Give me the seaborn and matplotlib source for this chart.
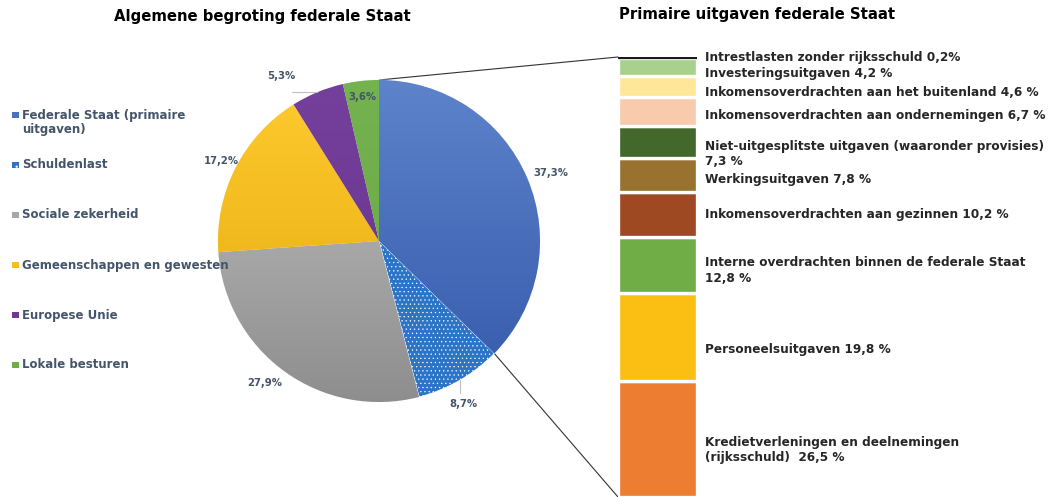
import numpy as np
import matplotlib
matplotlib.use("Agg")
import matplotlib.pyplot as plt
import seaborn as sns
from matplotlib.colors import LinearSegmentedColormap
from matplotlib.patches import Rectangle, ConnectionPatch

# ---------------- data ----------------
titles = ["Algemene begroting federale Staat", "Primaire uitgaven federale Staat"]

pie_categories = ["Federale Staat (primaire\nuitgaven)", "Schuldenlast", "Sociale zekerheid",
                  "Gemeenschappen en gewesten", "Europese Unie", "Lokale besturen"]
pie_values = [37.3, 8.7, 27.9, 17.2, 5.3, 3.6]
pie_value_labels = ["37,3%", "8,7%", "27,9%", "17,2%", "5,3%", "3,6%"]

bar_categories = ["Kredietverleningen en deelnemingen (rijksschuld)", "Personeelsuitgaven",
                  "Interne overdrachten binnen de federale Staat", "Inkomensoverdrachten aan gezinnen",
                  "Werkingsuitgaven", "Niet-uitgesplitste uitgaven (waaronder provisies)",
                  "Inkomensoverdrachten aan ondernemingen", "Inkomensoverdrachten aan het buitenland",
                  "Investeringsuitgaven", "Intrestlasten zonder rijksschuld"]
bar_values = [26.5, 19.8, 12.8, 10.2, 7.8, 7.3, 6.7, 4.6, 4.2, 0.2]
bar_labels = ["Kredietverleningen en deelnemingen\n(rijksschuld)  26,5 %",
              "Personeelsuitgaven 19,8 %",
              "Interne overdrachten binnen de federale Staat\n12,8 %",
              "Inkomensoverdrachten aan gezinnen 10,2 %",
              "Werkingsuitgaven 7,8 %",
              "Niet-uitgesplitste uitgaven (waaronder provisies)\n7,3 %",
              "Inkomensoverdrachten aan ondernemingen 6,7 %",
              "Inkomensoverdrachten aan het buitenland 4,6 %",
              "Investeringsuitgaven 4,2 %",
              "Intrestlasten zonder rijksschuld 0,2%"]

# ---------------- style ----------------
pie_colors = ["#4A70BC", "#2C74C6", "#A8A8A8", "#F8BE1C", "#6E3896", "#6DAE4A"]
pie_grad = {0: ("#5D83CB", "#3359AA"), 2: ("#C2C2C2", "#8E8E8E"), 3: ("#FFCB30", "#E3A80C"),
            4: ("#74409C", "#68338F"), 5: ("#74B34F", "#66A645")}
bar_colors = ["#ED7D31", "#FBBF14", "#70AD47", "#9E4921", "#997230", "#43682B",
              "#F8CBAD", "#FFE699", "#A9D18E", "#1A1A1A"]
label_angle_offset = [-1.3, -2.6, -3, 0, 8, 0]
label_dist = [1.15, 1.14, 1.13, 1.10, 1.19, 0.90]
bar_label_shift = [11, 12, 5, 0, 4, 12, 4, 6, 6, 0]

sns.set_theme(style="white")
plt.rcParams['font.family'] = ['DejaVu Sans']
plt.rcParams['hatch.linewidth'] = 0.4

W, H = 1054, 497
fig = plt.figure(figsize=(W / 100, H / 100), dpi=100)
fig.patch.set_facecolor("white")


def fr(x0, y0, w, h):
    return [x0 / W, 1 - (y0 + h) / H, w / W, h / H]


# overlay axes in pixel coordinates (titles, legend), drawn on top
axo = fig.add_axes([0, 0, 1, 1], zorder=5)
axo.set_xlim(0, W)
axo.set_ylim(H, 0)
axo.axis("off")
axo.patch.set_alpha(0)

# ---------------- pie ----------------
R = 161
cx, cy = 379, 241
axp = fig.add_axes(fr(cx - R, cy - R, 2 * R, 2 * R), zorder=2)
wedges, _ = axp.pie(pie_values, colors=pie_colors, startangle=90, counterclock=False,
                    wedgeprops=dict(linewidth=0.5, edgecolor="white"))
grad = np.linspace(0, 1, 256).reshape(-1, 1)
for i, w in enumerate(wedges):
    if i in pie_grad:
        light, dark = pie_grad[i]
        cmap = LinearSegmentedColormap.from_list("g%d" % i, [dark, light])
        im = axp.imshow(grad, extent=(-1, 1, -1, 1), origin="lower", cmap=cmap,
                        aspect="auto", zorder=w.get_zorder() + 0.1, interpolation="bilinear")
        im.set_clip_path(w)
    else:
        w.set_hatch("....")
        w.set_edgecolor("white")
axp.set_xlim(-1, 1)
axp.set_ylim(-1, 1)
axp.axis("off")

vals = np.array(pie_values)
cum = np.cumsum(vals)
mids = 90 - 3.6 * (cum - vals / 2)
for i, lab in enumerate(pie_value_labels):
    a = np.deg2rad(mids[i] + label_angle_offset[i])
    axp.text(label_dist[i] * np.cos(a), label_dist[i] * np.sin(a), lab, ha="center", va="center",
             fontsize=7.3, fontweight="bold", color="#44546A", zorder=5)

# small leader lines
a = np.deg2rad(mids[1])
axp.plot([np.cos(a), np.cos(a)], [np.sin(a), np.sin(a) - 0.08], color="#BFBFBF", lw=0.8,
         clip_on=False)
a = np.deg2rad(mids[4])
axp.plot([np.cos(a) - 0.16, np.cos(a)], [np.sin(a), np.sin(a)], color="#BFBFBF", lw=0.8,
         clip_on=False)

# ---------------- stacked bar ----------------
total = float(np.sum(bar_values))
axb = fig.add_axes(fr(618, 57, 79, 440), zorder=2)
bottoms = np.concatenate([[0], np.cumsum(bar_values)[:-1]])
for v, b, c in zip(bar_values, bottoms, bar_colors):
    if v < 1:
        sns.barplot(x=[0], y=[v], bottom=b, color=c, saturation=1, width=1, ax=axb,
                    edgecolor="#1A1A1A", linewidth=0.9)
    else:
        sns.barplot(x=[0], y=[v], bottom=b, color=c, saturation=1, width=1, ax=axb,
                    edgecolor="white", linewidth=2.4)
axb.set_xlim(-0.5, 0.5)
axb.set_ylim(0, total)
axb.axis("off")

for v, b, lab, sh in zip(bar_values, bottoms, bar_labels, bar_label_shift):
    axb.annotate(lab, xy=(0.5, b + v / 2), xytext=(8, -sh), textcoords="offset pixels",
                 ha="left", va="center", fontsize=8.7, fontweight="bold", color="#262626",
                 linespacing=1.25, annotation_clip=False)

# connector lines
con1 = ConnectionPatch(xyA=(0, 1), coordsA=axp.transData, xyB=(-0.5, total),
                       coordsB=axb.transData, color="#333333", lw=0.8)
fig.add_artist(con1)
ab = np.deg2rad(90 - 3.6 * pie_values[0])
con2 = ConnectionPatch(xyA=(np.cos(ab), np.sin(ab)), coordsA=axp.transData, xyB=(-0.5, 0),
                       coordsB=axb.transData, color="#333333", lw=0.8)
fig.add_artist(con2)

# ---------------- titles ----------------
axo.text(262, 17, titles[0], ha="center", va="center", fontsize=10.7, fontweight="bold",
         color="black")
axo.text(757, 15, titles[1], ha="center", va="center", fontsize=10.7, fontweight="bold",
         color="black")

# ---------------- legend ----------------
for i, (cat, col) in enumerate(zip(pie_categories, pie_colors)):
    y = 115 + 50 * i
    rect = Rectangle((12, y - 3.5), 6.5, 6.5, facecolor=col, edgecolor="none")
    if i == 1:
        rect.set_hatch("..")
        rect.set_edgecolor("white")
        rect.set_linewidth(0)
    axo.add_patch(rect)
    nlines = cat.count("\n") + 1
    axo.text(22, y + 7.5 * (nlines - 1), cat, ha="left", va="center", fontsize=8.5,
             fontweight="bold", color="#44546A", linespacing=1.2)

fig.savefig("out.png", dpi=100, facecolor="white")
